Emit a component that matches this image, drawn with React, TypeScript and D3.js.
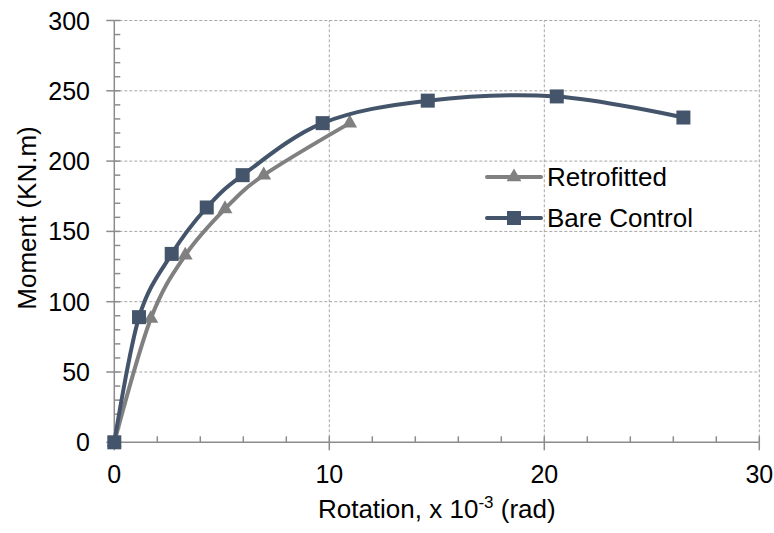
import * as d3 from "d3";

const retroX = [0, 1.7, 3.3, 5.15, 6.95, 10.95];
const retroY = [0, 88, 133, 166, 190, 227];
const bareX = [0, 1.15, 2.67, 4.3, 5.97, 9.69, 14.58, 20.58, 26.47];
const bareY = [0, 89, 134, 167, 190, 227, 243, 246, 231];

const xMajor = [0, 10, 20, 30];
const xMinor = d3.range(0, 30.01, 2);
const yMajor = [0, 50, 100, 150, 200, 250, 300];
const yMinor = d3.range(0, 300.01, 10);

const seriesNames = ["Retrofitted", "Bare Control"];
const retroColor = "#808080";
const bareColor = "#44546a";
const axisColor = "#8c8c8c";
const font = "'Liberation Sans', Arial, sans-serif";

const W = 774;
const H = 533;

export default function App() {
  const x = d3.scaleLinear().domain([0, 30]).range([114.3, 759.3]);
  const y = d3.scaleLinear().domain([0, 300]).range([442.3, 20.5]);

  // Excel-like smoothing
  const line = d3
    .line<[number, number]>()
    .x((d) => x(d[0]))
    .y((d) => y(d[1]))
    .curve(d3.curveCardinal.tension(0));

  const retro = retroX.map((v, i) => [v, retroY[i]] as [number, number]);
  const bare = bareX.map((v, i) => [v, bareY[i]] as [number, number]);

  const tri = d3.symbol().type(d3.symbolTriangle).size(95)();
  const sq = 14;

  const legendX0 = 487;
  const legendX1 = 541;
  const legendY = [177, 218];

  return (
    <svg
      width={W}
      height={H}
      style={{ position: "absolute", left: 0, top: 0, background: "#fff" }}
      fontFamily={font}
    >
      {/* grid */}
      <g stroke="#a6a6a6" strokeWidth={1} strokeDasharray="3,2">
        {yMajor.slice(1).map((t) => (
          <line key={"gy" + t} x1={x(0)} x2={x(30)} y1={y(t)} y2={y(t)} />
        ))}
        {xMajor.slice(1).map((t) => (
          <line key={"gx" + t} x1={x(t)} x2={x(t)} y1={y(0)} y2={y(300)} />
        ))}
      </g>

      {/* axes */}
      <g stroke={axisColor} strokeWidth={1.5}>
        <line x1={x(0)} x2={x(0)} y1={y(0)} y2={y(300)} />
        <line x1={x(0)} x2={x(30)} y1={y(0)} y2={y(0)} />
        {yMinor.map((t) => (
          <line key={"my" + t} x1={x(0)} x2={x(0) + 6} y1={y(t)} y2={y(t)} />
        ))}
        {yMajor.map((t) => (
          <line key={"My" + t} x1={x(0) - 8} x2={x(0)} y1={y(t)} y2={y(t)} />
        ))}
        {xMinor.map((t) => (
          <line key={"mx" + t} x1={x(t)} x2={x(t)} y1={y(0)} y2={y(0) - 6} />
        ))}
        {xMajor.map((t) => (
          <line key={"Mx" + t} x1={x(t)} x2={x(t)} y1={y(0)} y2={y(0) + 8} />
        ))}
      </g>

      {/* tick labels */}
      <g fontSize={25} fill="#000">
        {yMajor.map((t) => (
          <text key={"ly" + t} x={90} y={y(t)} dy="0.36em" textAnchor="end">
            {t}
          </text>
        ))}
        {xMajor.map((t) => (
          <text key={"lx" + t} x={x(t)} y={483} textAnchor="middle">
            {t}
          </text>
        ))}
      </g>

      {/* axis titles */}
      <text x={x(15)} y={518} textAnchor="middle" fontSize={26}>
        Rotation, x 10
        <tspan fontSize={17} dy={-10}>
          -3
        </tspan>
        <tspan dy={10}> (rad)</tspan>
      </text>
      <text
        transform={`translate(36,218) rotate(-90)`}
        textAnchor="middle"
        fontSize={26}
      >
        Moment (KN.m)
      </text>

      {/* series */}
      <path d={line(retro) || ""} fill="none" stroke={retroColor} strokeWidth={4} />
      {retro.map((d, i) => (
        <path
          key={"rt" + i}
          d={tri || ""}
          transform={`translate(${x(d[0])},${y(d[1])})`}
          fill={retroColor}
        />
      ))}
      <path d={line(bare) || ""} fill="none" stroke={bareColor} strokeWidth={4} />
      {bare.map((d, i) => (
        <rect
          key={"bs" + i}
          x={x(d[0]) - sq / 2}
          y={y(d[1]) - sq / 2}
          width={sq}
          height={sq}
          fill={bareColor}
        />
      ))}

      {/* legend */}
      {seriesNames.map((name, i) => {
        const c = i === 0 ? retroColor : bareColor;
        const ly = legendY[i];
        const cx = (legendX0 + legendX1) / 2;
        return (
          <g key={name}>
            <line
              x1={legendX0}
              x2={legendX1}
              y1={ly}
              y2={ly}
              stroke={c}
              strokeWidth={4}
              strokeLinecap="round"
            />
            {i === 0 ? (
              <path d={tri || ""} transform={`translate(${cx},${ly})`} fill={c} />
            ) : (
              <rect x={cx - sq / 2} y={ly - sq / 2} width={sq} height={sq} fill={c} />
            )}
            <text x={547} y={ly} dy="0.36em" fontSize={26}>
              {name}
            </text>
          </g>
        );
      })}
    </svg>
  );
}
